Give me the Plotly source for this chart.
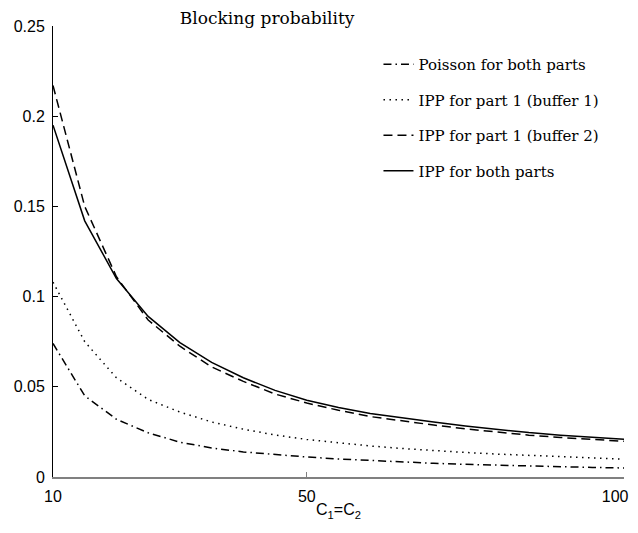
import plotly.graph_objects as go

capacity = [10, 15, 20, 25, 30, 35, 40, 45, 50, 55, 60, 65, 70, 75, 80, 85, 90, 95, 100]

poisson_both = [0.074, 0.045, 0.032, 0.0245, 0.0193, 0.0161, 0.0139, 0.0123, 0.0111,
                0.0100, 0.0091, 0.0083, 0.0076, 0.0070, 0.0065, 0.0061, 0.0057, 0.0053, 0.0050]
ipp_part1_buf1 = [0.108, 0.075, 0.055, 0.043, 0.036, 0.0305, 0.0265, 0.0233, 0.0208,
                  0.0188, 0.0172, 0.0158, 0.0146, 0.0136, 0.0127, 0.0119, 0.0112, 0.0105, 0.0099]
ipp_part1_buf2 = [0.217, 0.150, 0.111, 0.087, 0.0725, 0.061, 0.053, 0.046, 0.041,
                  0.037, 0.0335, 0.031, 0.0288, 0.0267, 0.0248, 0.0232, 0.0219, 0.0208, 0.0198]
ipp_both = [0.195, 0.142, 0.110, 0.089, 0.0745, 0.0635, 0.055, 0.048, 0.0425,
            0.0385, 0.0352, 0.0327, 0.0305, 0.0283, 0.0263, 0.0246, 0.0232, 0.0220, 0.0209]

series_names = ["Poisson for both parts", "IPP for part 1 (buffer 1)",
                "IPP for part 1 (buffer 2)", "IPP for both parts"]
series_values = [poisson_both, ipp_part1_buf1, ipp_part1_buf2, ipp_both]
series_dash = ["8px,4px,1.5px,4px", "1.5px,4.5px", "9px,5px", "solid"]

x_ticks = [10, 50, 100]
x_ticklabels = ["10", "50", "100"]
y_ticks = [0, 0.05, 0.1, 0.15, 0.2, 0.25]
y_ticklabels = ["0", "0.05", "0.1", "0.15", "0.2", "0.25"]

# keep the right-most tick label inside the page (pad with invisible figure spaces)
x_ticktext = x_ticklabels[:-1] + [x_ticklabels[-1] + "\u2007\u2007"]

fig = go.Figure()
for i, (name, vals, dash) in enumerate(zip(series_names, series_values, series_dash)):
    fig.add_trace(go.Scatter(
        x=capacity, y=vals, mode="lines", name=name, legendgroup=f"g{i}",
        line=dict(color="black", width=1.5, dash=dash),
    ))

# page body adds an 8px offset; figure is sized so the page does not scroll
fig.update_layout(
    width=630, height=517,
    margin=dict(l=45, r=14, t=18, b=48),
    paper_bgcolor="white", plot_bgcolor="white",
    showlegend=True,
    title=dict(text="Blocking probability", xref="paper", x=0.375, xanchor="center",
               yref="container", y=0.993, yanchor="top", pad=dict(t=0, b=0),
               font=dict(family="DejaVu Serif", size=17, color="black")),
    legend=dict(x=0.57, y=0.951, xanchor="left", yanchor="top",
                font=dict(family="DejaVu Serif", size=15, color="black"),
                bgcolor="rgba(0,0,0,0)", tracegroupgap=13,
                traceorder="grouped"),
    font=dict(family="Liberation Sans", size=16, color="black"),
)

fig.update_xaxes(
    range=[10, 100], tickvals=x_ticks, ticktext=x_ticktext,
    automargin=False, ticklabeloverflow="allow",
    showgrid=False, zeroline=False,
    showline=True, linecolor="#808080", linewidth=2,
    ticks="inside", ticklen=5, tickcolor="#808080", tickwidth=1,
    ticklabelstandoff=4,
    tickfont=dict(family="Liberation Sans", size=16, color="black"),
    title=dict(text="C<sub>1</sub>=C<sub>2</sub>", standoff=0,
               font=dict(family="Liberation Sans", size=16, color="black")),
)
fig.update_yaxes(
    range=[0, 0.25], tickvals=y_ticks, ticktext=y_ticklabels,
    automargin=False, ticklabeloverflow="allow",
    showgrid=False, zeroline=False,
    showline=True, linecolor="black", linewidth=1,
    ticks="inside", ticklen=5, tickcolor="black", tickwidth=1,
    ticklabelstandoff=4,
    tickfont=dict(family="Liberation Sans", size=16, color="black"),
)

fig.write_html("out.html")
